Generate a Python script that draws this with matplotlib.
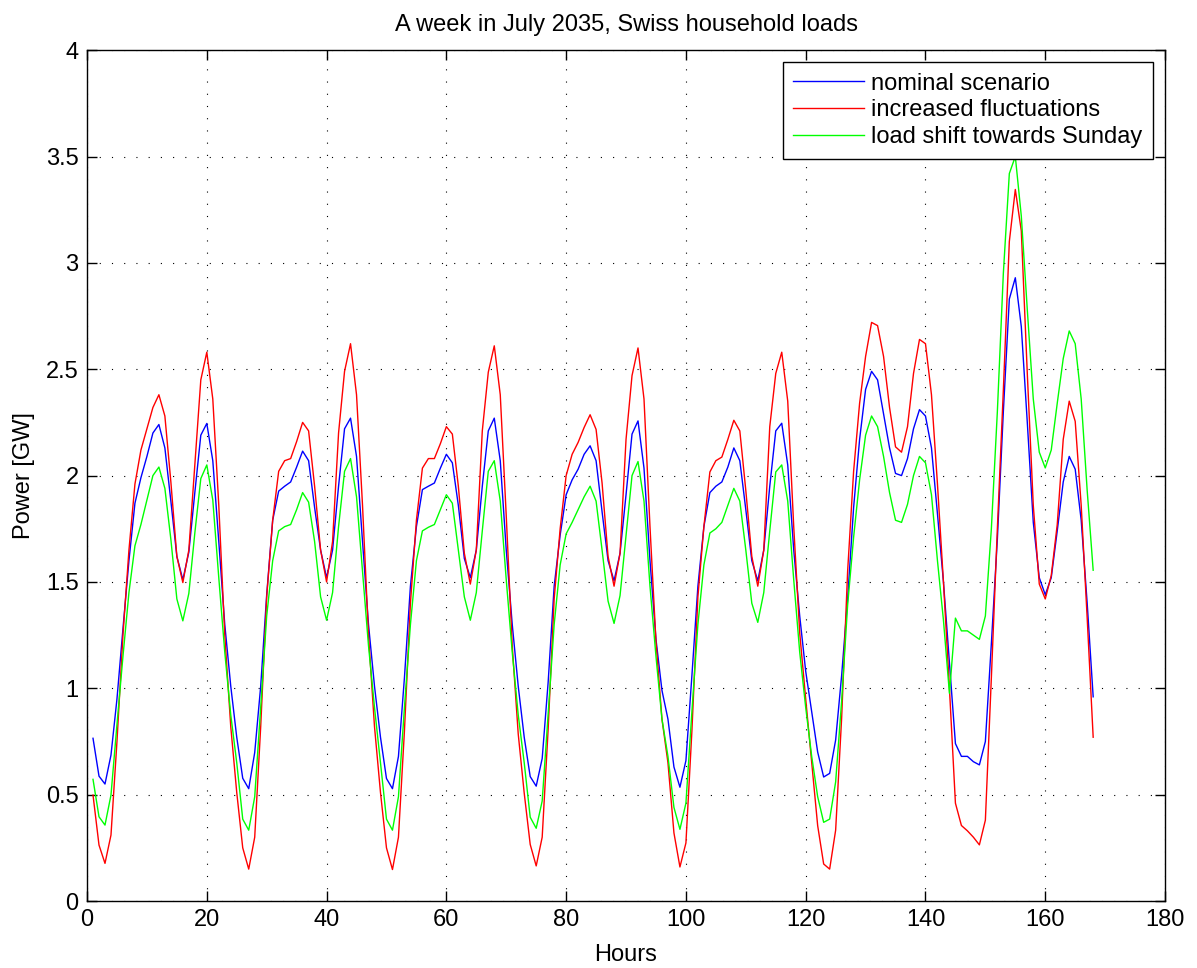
import numpy as np
import matplotlib
matplotlib.use("Agg")
import matplotlib.pyplot as plt

plt.rcParams['font.family'] = ['Liberation Sans', 'DejaVu Sans']

# one row per day (24 hourly values)
nominal = [
    0.765, 0.587, 0.55, 0.686, 0.95, 1.28, 1.60, 1.87, 1.99, 2.09, 2.20, 2.24, 2.13, 1.88, 1.62, 1.51, 1.64, 1.92, 2.19, 2.245, 2.07, 1.69, 1.30, 1.01,
    0.77, 0.577, 0.528, 0.698, 1.01, 1.44, 1.79, 1.927, 1.95, 1.97, 2.04, 2.115, 2.07, 1.85, 1.65, 1.52, 1.65, 1.95, 2.22, 2.27, 2.09, 1.69, 1.30, 1.01,
    0.77, 0.576, 0.528, 0.68, 1.05, 1.48, 1.76, 1.934, 1.95, 1.965, 2.035, 2.10, 2.06, 1.86, 1.61, 1.52, 1.65, 1.95, 2.21, 2.27, 2.07, 1.65, 1.30, 1.01,
    0.77, 0.585, 0.54, 0.67, 1.03, 1.48, 1.72, 1.91, 1.98, 2.03, 2.10, 2.14, 2.07, 1.83, 1.60, 1.505, 1.635, 1.91, 2.195, 2.257, 2.035, 1.60, 1.23, 0.99,
    0.855, 0.63, 0.535, 0.66, 1.06, 1.48, 1.76, 1.92, 1.95, 1.97, 2.04, 2.13, 2.07, 1.84, 1.60, 1.505, 1.65, 1.95, 2.21, 2.246, 2.05, 1.65, 1.34, 1.08,
    0.89, 0.70, 0.583, 0.60, 0.757, 1.06, 1.42, 1.85, 2.17, 2.405, 2.49, 2.45, 2.29, 2.13, 2.01, 2.0, 2.08, 2.22, 2.31, 2.28, 2.13, 1.82, 1.50, 1.12,
    0.74, 0.68, 0.68, 0.655, 0.64, 0.75, 1.21, 1.70, 2.30, 2.83, 2.93, 2.70, 2.25, 1.78, 1.52, 1.44, 1.52, 1.74, 1.97, 2.09, 2.03, 1.79, 1.40, 0.96,
]

fluct = [
    0.498, 0.263, 0.177, 0.31, 0.75, 1.25, 1.65, 1.96, 2.12, 2.22, 2.32, 2.38, 2.28, 1.97, 1.62, 1.497, 1.65, 2.05, 2.45, 2.58, 2.36, 1.86, 1.25, 0.82,
    0.51, 0.25, 0.15, 0.30, 0.82, 1.43, 1.79, 2.02, 2.07, 2.08, 2.16, 2.25, 2.21, 1.95, 1.65, 1.50, 1.69, 2.20, 2.49, 2.62, 2.38, 1.86, 1.25, 0.82,
    0.51, 0.25, 0.148, 0.30, 0.80, 1.40, 1.79, 2.035, 2.08, 2.08, 2.15, 2.23, 2.195, 1.95, 1.635, 1.49, 1.65, 2.21, 2.486, 2.61, 2.38, 1.81, 1.20, 0.785,
    0.507, 0.266, 0.165, 0.30, 0.81, 1.42, 1.75, 2.0, 2.10, 2.156, 2.226, 2.286, 2.217, 1.965, 1.62, 1.48, 1.635, 2.17, 2.47, 2.60, 2.36, 1.76, 1.22, 0.855,
    0.65, 0.32, 0.16, 0.273, 0.80, 1.43, 1.76, 2.017, 2.07, 2.087, 2.17, 2.26, 2.21, 1.93, 1.62, 1.48, 1.65, 2.23, 2.48, 2.58, 2.35, 1.76, 1.26, 0.95,
    0.65, 0.354, 0.174, 0.15, 0.333, 0.86, 1.55, 2.02, 2.34, 2.56, 2.72, 2.705, 2.56, 2.32, 2.135, 2.11, 2.23, 2.48, 2.64, 2.62, 2.38, 1.96, 1.50, 1.0,
    0.46, 0.355, 0.33, 0.30, 0.264, 0.38, 1.05, 1.75, 2.40, 3.10, 3.345, 3.15, 2.48, 1.86, 1.49, 1.42, 1.53, 1.77, 2.17, 2.35, 2.255, 1.86, 1.33, 0.77,
]

shift = [
    0.572, 0.396, 0.357, 0.498, 0.83, 1.15, 1.45, 1.67, 1.77, 1.885, 2.0, 2.04, 1.94, 1.70, 1.42, 1.317, 1.446, 1.73, 1.986, 2.05, 1.885, 1.52, 1.17, 0.875,
    0.65, 0.385, 0.333, 0.49, 0.91, 1.34, 1.60, 1.74, 1.76, 1.77, 1.84, 1.92, 1.875, 1.69, 1.43, 1.32, 1.45, 1.76, 2.02, 2.08, 1.90, 1.55, 1.20, 0.91,
    0.65, 0.385, 0.333, 0.49, 0.91, 1.30, 1.60, 1.74, 1.757, 1.77, 1.84, 1.91, 1.87, 1.65, 1.43, 1.32, 1.45, 1.74, 2.02, 2.07, 1.88, 1.51, 1.17, 0.875,
    0.65, 0.394, 0.342, 0.47, 0.88, 1.30, 1.58, 1.726, 1.78, 1.84, 1.90, 1.95, 1.88, 1.65, 1.41, 1.305, 1.436, 1.72, 2.0, 2.066, 1.88, 1.48, 1.15, 0.855,
    0.68, 0.44, 0.337, 0.46, 0.89, 1.30, 1.58, 1.73, 1.75, 1.78, 1.86, 1.94, 1.88, 1.65, 1.40, 1.31, 1.45, 1.74, 2.017, 2.05, 1.88, 1.51, 1.17, 0.91,
    0.68, 0.49, 0.37, 0.385, 0.56, 0.94, 1.39, 1.71, 1.98, 2.19, 2.28, 2.23, 2.09, 1.92, 1.79, 1.78, 1.865, 2.0, 2.09, 2.06, 1.91, 1.60, 1.32, 0.976,
    1.33, 1.27, 1.27, 1.25, 1.23, 1.34, 1.75, 2.30, 2.95, 3.42, 3.50, 3.22, 2.78, 2.36, 2.11, 2.036, 2.12, 2.34, 2.55, 2.68, 2.62, 2.36, 1.93, 1.555,
]

hours = np.arange(1, len(nominal) + 1)
labels = ['nominal scenario', 'increased fluctuations', 'load shift towards Sunday']

fig = plt.figure(figsize=(11.97, 9.68), dpi=100)
ax = fig.add_axes([0.0727, 0.0692, 0.9006, 0.879])

ax.plot(hours, nominal, color='#0000ff', lw=1.0, label=labels[0])
ax.plot(hours, fluct, color='#ff0000', lw=1.0, label=labels[1])
ax.plot(hours, shift, color='#00ff00', lw=1.0, label=labels[2])

ax.set_xlim(0, 180)
ax.set_ylim(0, 4)
ax.set_xticks(np.arange(0, 181, 20))
ax.set_yticks(np.arange(0, 4.01, 0.5))
ax.set_yticklabels(['0', '0.5', '1', '1.5', '2', '2.5', '3', '3.5', '4'])

ax.grid(True, color='black', linestyle=(0, (1, 10)), lw=0.8)
ax.tick_params(direction='in', length=7, width=1, top=True, right=True,
               labelsize=17, pad=6)
for s in ax.spines.values():
    s.set_linewidth(1.0)

ax.set_title('A week in July 2035, Swiss household loads', fontsize=17, pad=14)
ax.set_xlabel('Hours', fontsize=17, labelpad=9)
ax.set_ylabel('Power [GW]', fontsize=17, labelpad=8)

leg = ax.legend(loc='upper right', fontsize=17, fancybox=False, framealpha=1,
                edgecolor='black', handlelength=3.0, handletextpad=0.3,
                labelspacing=0.2, borderpad=0.45, borderaxespad=0.5)
leg.get_frame().set_linewidth(1.0)

fig.savefig('out.png', dpi=100)
